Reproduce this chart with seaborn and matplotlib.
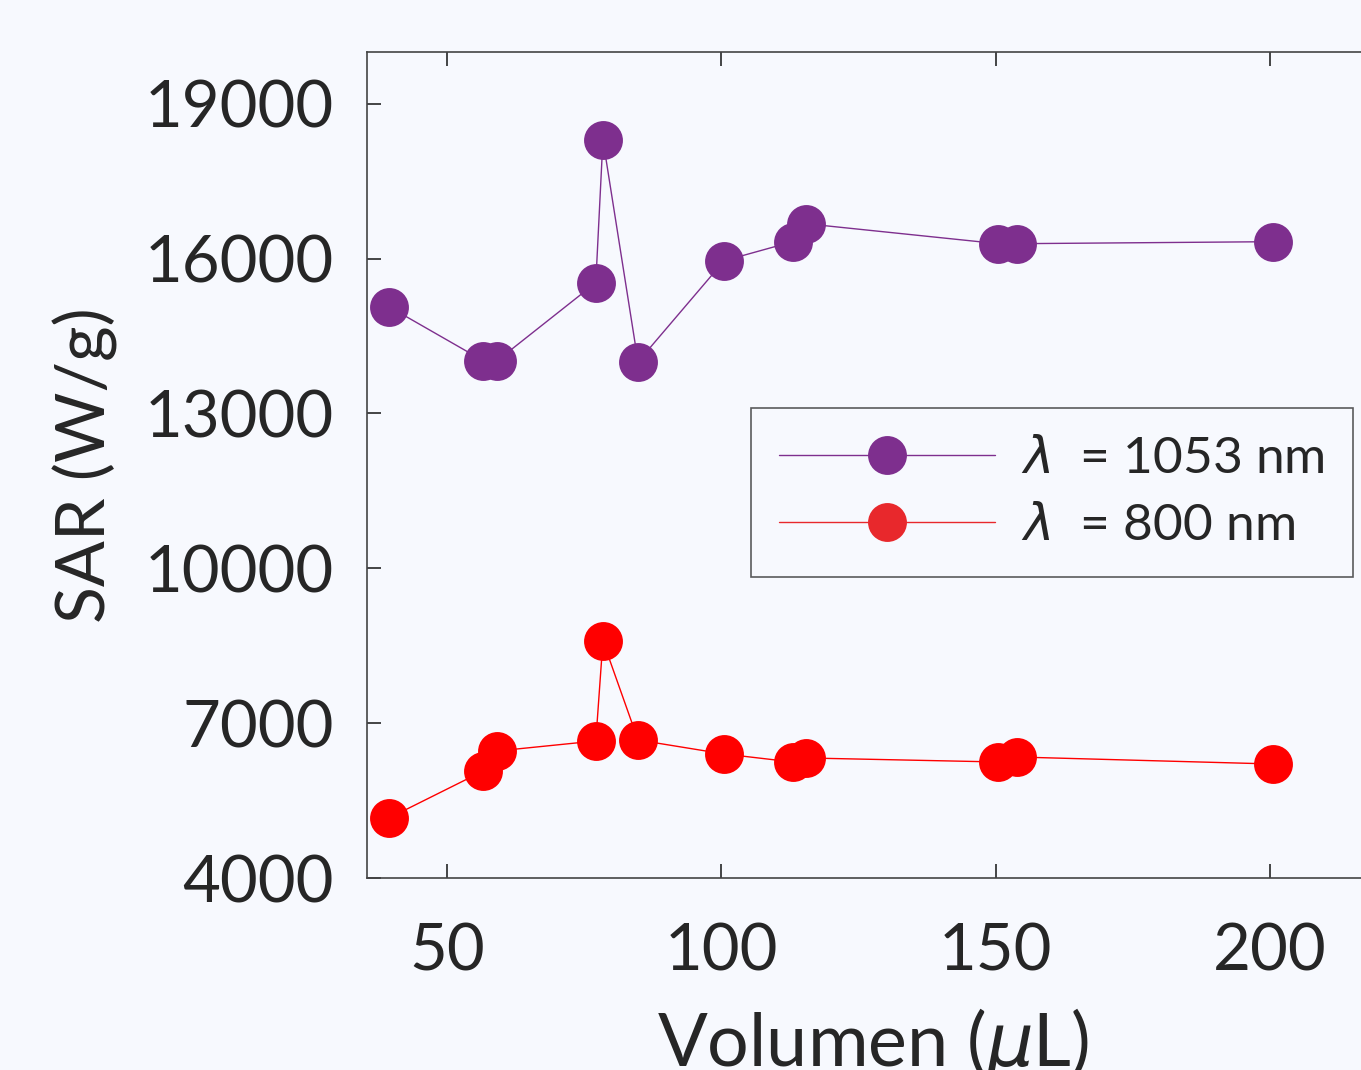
import pandas as pd
import seaborn as sns
import matplotlib.pyplot as plt
from matplotlib.lines import Line2D

# Datos
volumen = [39.4, 56.6, 59.1, 77.1, 78.4, 84.8, 100.5, 113.0, 115.4, 150.5, 153.8, 200.5]
sar_1053 = [15066, 14019, 14019, 15531, 18302, 14000, 15957, 16326, 16674, 16287, 16287, 16326]
sar_800 = [5163, 6074, 6461, 6655, 8593, 6674, 6403, 6248, 6326, 6248, 6345, 6209]
etiquetas = [r'$\lambda$  = 1053 nm', r'$\lambda$  = 800 nm']
colores = ['#7e2f8e', '#ff0000']
colores_leyenda = ['#7e2f8e', '#e8282c']

df = pd.DataFrame({
    'Volumen': volumen * 2,
    'SAR': sar_1053 + sar_800,
    'serie': [etiquetas[0]] * len(volumen) + [etiquetas[1]] * len(volumen),
})

sns.set_style('ticks')
plt.rcParams['font.family'] = ['Lato', 'DejaVu Sans']
plt.rcParams['mathtext.fontset'] = 'dejavusans'
bg = '#f7f9fe'

fig = plt.figure(figsize=(13.61, 10.70), dpi=100, facecolor=bg)
ax = fig.add_axes([0.2697, 0.1794, 0.744, 0.772], facecolor=bg)

sns.lineplot(data=df, x='Volumen', y='SAR', hue='serie', palette=colores,
             marker='o', markersize=28, markeredgewidth=0, linewidth=1,
             sort=True, estimator=None, legend=False, ax=ax)

ax.set_xlim(35.4, 220)
ax.set_ylim(4000, 20000)
ax.set_xticks([50, 100, 150, 200])
ax.set_yticks([4000, 7000, 10000, 13000, 16000, 19000])
ax.tick_params(direction='in', length=10, width=1.2, labelsize=47, colors='#262626',
               top=True, right=False)
ax.tick_params(axis='x', pad=32)
ax.tick_params(axis='y', pad=24)
for s in ax.spines.values():
    s.set_color('#444444')
    s.set_linewidth(1.2)
ax.spines['right'].set_visible(False)

ax.set_xlabel(r'Volumen ($\mu$L)', fontsize=53, color='#262626', labelpad=18)
ax.set_ylabel('SAR (W/g)', fontsize=49, color='#262626', labelpad=19)

handles = [Line2D([], [], color=c, marker='o', markersize=28, markeredgewidth=0, linewidth=1)
           for c in colores_leyenda]
leg = ax.legend(handles, etiquetas, loc='upper left', bbox_to_anchor=(0.379, 0.569),
                borderaxespad=0, fontsize=37, frameon=True, fancybox=False,
                handlelength=4.2, borderpad=0.55, labelspacing=0.4, handletextpad=0.5)
leg.get_frame().set_edgecolor('#333333')
leg.get_frame().set_facecolor(bg)
leg.get_frame().set_linewidth(1.2)

fig.savefig('out.png', dpi=100, facecolor=bg)
